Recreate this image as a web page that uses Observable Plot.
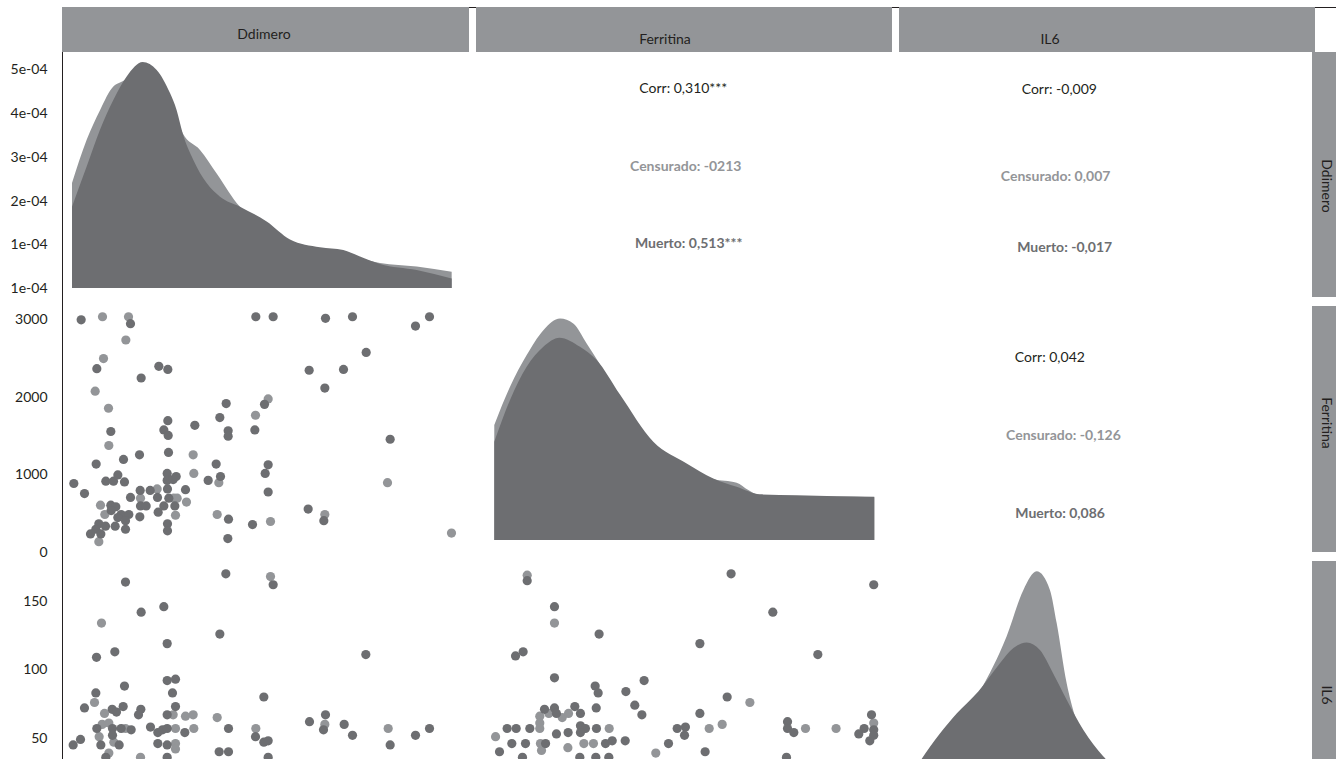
<!DOCTYPE html>
<html>
<head>
<meta charset="utf-8">
<script src="https://cdn.jsdelivr.net/npm/d3@7"></script>
<script src="https://cdn.jsdelivr.net/npm/@observablehq/plot@0.6"></script>
<style>
  html, body { margin: 0; padding: 0; background: #fff; overflow: hidden; }
  #chart { position: relative; width: 1336px; height: 759px; overflow: hidden; font-family: Lato, "Open Sans", sans-serif; color: #231f20; }
  .strip { position: absolute; background: #939598; }
  .lbl { position: absolute; font-size: 14px; line-height: 1; white-space: nowrap; transform: translate(-50%, -50%); color: #231f20; }
  .vlbl { writing-mode: vertical-rl; }
  .rule { position: absolute; background: #231f20; }
</style>
</head>
<body>
<div id="chart"></div>
<script>
// ---------------- DATA ----------------
const variables = ["Ddimero", "Ferritina", "IL6"];
const groups = ["Censurado", "Muerto"];

// Diagonal densities (x grid, density)
const ddimeroGridCensurado = [1080, 1300, 1500, 1700, 1800, 2140, 2350, 2550, 2740, 3000, 3250, 3600, 4000, 4350, 4800, 5150, 5400, 5700, 6250, 6775];
const ddimeroDensCensurado = [2.40e-4, 3.39e-4, 4.07e-4, 4.61e-4, 4.70e-4, 4.85e-4, 4.75e-4, 4.30e-4, 3.54e-4, 3.16e-4, 2.62e-4, 1.86e-4, 1.49e-4, 1.09e-4, 0.91e-4, 0.85e-4, 0.70e-4, 0.57e-4, 0.49e-4, 0.37e-4];
const ddimeroGridMuerto = [1080, 1300, 1500, 1700, 1900, 2140, 2350, 2550, 2650, 2740, 2900, 3100, 3300, 3600, 4000, 4350, 4800, 5150, 5400, 5700, 6250, 6775];
const ddimeroDensMuerto = [1.86e-4, 2.78e-4, 3.62e-4, 4.30e-4, 4.84e-4, 5.17e-4, 4.99e-4, 4.46e-4, 4.07e-4, 3.54e-4, 2.93e-4, 2.40e-4, 2.09e-4, 1.86e-4, 1.52e-4, 1.11e-4, 0.93e-4, 0.87e-4, 0.72e-4, 0.55e-4, 0.41e-4, 0.22e-4];

const ferritinaGridCensurado = [144, 264, 391, 518, 645, 746, 848, 937, 1102, 1356, 1610, 1813, 1991, 2080, 2169, 2448, 2753, 3040];
const ferritinaDensCensurado = [4.43e-4, 5.90e-4, 7.12e-4, 8.08e-4, 8.53e-4, 8.34e-4, 7.57e-4, 6.86e-4, 5.40e-4, 3.70e-4, 2.90e-4, 2.35e-4, 2.21e-4, 1.93e-4, 1.72e-4, 1.70e-4, 1.68e-4, 1.65e-4];
const ferritinaGridMuerto = [144, 264, 391, 518, 640, 797, 924, 1102, 1356, 1610, 1813, 1991, 2169, 2448, 2753, 3040];
const ferritinaDensMuerto = [3.78e-4, 5.39e-4, 6.67e-4, 7.44e-4, 7.79e-4, 7.44e-4, 6.93e-4, 5.60e-4, 3.78e-4, 2.95e-4, 2.37e-4, 2.05e-4, 1.76e-4, 1.72e-4, 1.69e-4, 1.67e-4];

const il6GridCensurado = [5.0, 18.3, 35.5, 47.0, 54.2, 59.9, 65.6, 68.5, 72.8, 76.4, 87.1, 100.0, 130.1, 171.8];
const il6DensCensurado = [1.5e-3, 6.5e-3, 15.0e-3, 23.0e-3, 29.7e-3, 32.4e-3, 29.7e-3, 24.9e-3, 16.2e-3, 11.4e-3, 5.1e-3, 1.5e-3, 0.8e-3, 0.5e-3];
const il6GridMuerto = [5.0, 10.4, 18.3, 25.5, 34.8, 44.1, 49.9, 55.6, 61.3, 67.0, 72.8, 80.0, 88.5, 97.9, 108.6, 130.1, 151.6, 171.8];
const il6DensMuerto = [2.5e-3, 5.2e-3, 8.9e-3, 11.8e-3, 15.0e-3, 19.1e-3, 21.3e-3, 22.1e-3, 21.0e-3, 17.6e-3, 13.8e-3, 9.4e-3, 5.6e-3, 2.9e-3, 1.7e-3, 1.0e-3, 0.9e-3, 0.7e-3];

// Scatter: [x, y] pairs
const ddimeroFerritinaMuerto = [
  [1210,3000],[1950,2950],[3830,3040],[4090,3040],[4875,3020],[5280,3040],[6225,2920],[6435,3040],
  [1445,2370],[2110,2250],[2375,2400],[2510,2360],[5485,2580],[4630,2350],[5145,2360],[4865,2120],
  [3385,1920],[3960,1910],[3290,1740],[2510,1700],[2915,1640],[1655,1560],[2450,1580],[2515,1510],
  [3415,1570],[3415,1500],[3815,1580],[5845,1460],[2520,1290],[2085,1260],[1845,1200],[1435,1140],
  [3235,1140],[4015,1130],[3970,1020],[1100,890],[1260,760],[1580,920],[1695,920],[1760,1000],
  [1860,910],[2500,1020],[2500,930],[2590,940],[2635,980],[3115,930],[3300,980],[4015,780],
  [1950,710],[2095,800],[2245,800],[2355,710],[2505,820],[2775,810],[1655,610],[1730,590],
  [1660,540],[1810,490],[1760,450],[1925,490],[2100,600],[2185,600],[2090,460],[2525,700],
  [2450,600],[2615,600],[2365,520],[1475,370],[1575,340],[1720,340],[1875,410],[1875,300],
  [1430,300],[1350,240],[1505,240],[2505,370],[2505,280],[3420,430],[3780,360],[4615,560],
  [4850,410],[3410,180]
];
const ddimeroFerritinaCensurado = [
  [1530,3040],[1920,3040],[1880,2740],[1545,2500],[1420,2080],[1620,1860],[1625,1380],[2890,1260],
  [2900,1020],[3275,900],[4015,1980],[3825,1770],[5805,900],[1500,610],[1565,490],[2350,820],
  [2100,700],[2600,700],[2650,700],[2790,650],[2625,480],[3250,490],[4050,400],[4865,490],
  [1475,140],[6765,250]
];
const ddimeroIl6Muerto = [
  [3380,170],[1875,164],[4090,162],[2450,146],[2110,142],[3290,126],[2500,119],[1715,113],
  [1440,109],[5480,111],[2500,92],[2625,93],[1860,88],[2580,83],[1430,83],[3950,80],
  [1260,72],[1675,71],[1740,69],[1840,73],[2105,71],[2070,67],[2500,67],[2625,73],
  [4635,62],[4875,67],[5155,60],[5280,52],[4845,56],[6225,52],[6435,57],[5845,45],
  [1445,57],[1680,57],[1680,52],[1810,57],[1960,56],[2250,58],[2360,54],[2430,56],
  [2500,57],[2765,54],[3420,57],[3825,51],[3950,47],[4015,48],[1090,45],[1200,49],
  [1505,45],[1780,45],[2360,46],[2500,45],[3280,40],[3420,40],[1580,36],[2500,36],[4015,36]
];
const ddimeroIl6Censurado = [
  [4050,168],[1515,134],[1410,76],[1560,68],[1525,60],[1625,61],[1480,51],[1700,47],
  [1625,39],[1875,57],[2100,36],[2590,67],[2625,57],[2775,66],[2890,67],[2900,57],
  [2625,46],[2625,42],[3250,65],[3830,57],[4865,60],[5815,57]
];
const ferritinaIl6Muerto = [
  [1945,170],[3032,162],[391,165],[599,146],[2263,142],[939,126],[1707,119],[2606,111],
  [360,113],[302,110],[599,94],[1282,92],[909,88],[932,83],[1143,84],[1915,80],
  [1211,74],[1265,67],[754,73],[917,72],[523,71],[599,72],[614,68],[797,68],
  [1707,68],[3015,67],[2375,62],[2375,57],[2423,54],[2959,57],[2918,53],[3032,56],
  [3002,48],[3032,52],[238,57],[307,57],[411,57],[797,59],[835,57],[797,54],
  [919,57],[614,53],[703,54],[1534,57],[1597,58],[1590,52],[180,40],[274,46],
  [378,46],[531,46],[988,46],[1039,48],[1138,48],[1468,46],[1747,40],[355,36],
  [792,36],[914,36],[1013,36],[2367,36]
];
const ferritinaIl6Censurado = [
  [391,169],[599,134],[150,51],[487,66],[487,61],[487,57],[556,68],[658,65],
  [706,68],[492,46],[500,41],[701,43],[823,46],[896,46],[1016,57],[1778,57],
  [1877,60],[2088,76],[2512,57],[2745,57],[3032,61],[1371,39]
];

// Upper-triangle correlation labels (Ferritina~Ddimero, IL6~Ddimero, IL6~Ferritina)
const corrTotal = ["Corr: 0,310***", "Corr: -0,009", "Corr: 0,042"];
const corrCensurado = ["Censurado: -0213", "Censurado: 0,007", "Censurado: -0,126"];
const corrMuerto = ["Muerto: 0,513***", "Muerto: -0,017", "Muerto: 0,086"];

// Tick labels
const ddimeroTicks = [0, 0.0001, 0.0002, 0.0003, 0.0004, 0.0005];
const ddimeroTickLabels = ["1e-04", "1e-04", "2e-04", "3e-04", "4e-04", "5e-04"];
const ferritinaTicks = [0, 1000, 2000, 3000];
const il6Ticks = [50, 100, 150];

// ---------------- STYLE / LAYOUT ----------------
const colorCens = "#939598";
const colorMuerto = "#6d6e71";
const textDark = "#231f20";
const dotR = 4.6;

const cols = [
  {left: 0, width: 469, marginLeft: 62},
  {left: 476, width: 416, marginLeft: 0},
  {left: 899, width: 413, marginLeft: 0}
];
const rows = [
  {top: 52, height: 245},
  {top: 306, height: 246},
  {top: 561, height: 245}
];
const xDomains = [[930, 7035], [4.7, 3175], [0.7, 178.3]];

const topStrips = [
  {left: 62, width: 407, cx: 264, cy: 34},
  {left: 476, width: 416, cx: 665, cy: 39},
  {left: 899, width: 416, cx: 1050, cy: 39}
];
const rightStrips = [
  {top: 52, height: 245, cx: 1327, cy: 186},
  {top: 306, height: 246, cx: 1327, cy: 423},
  {top: 561, height: 246, cx: 1327, cy: 695}
];
// text panels: [row, col, positions (fraction of panel)]
const textPanels = [
  {row: 0, col: 1, pos: [[0.497, 0.148], [0.503, 0.464], [0.510, 0.781]]},
  {row: 0, col: 2, pos: [[0.387, 0.152], [0.378, 0.505], [0.400, 0.795]]},
  {row: 1, col: 2, pos: [[0.364, 0.206], [0.397, 0.524], [0.389, 0.843]]}
];

const chart = document.getElementById("chart");

function addDiv(cls, css, text) {
  const d = document.createElement("div");
  d.className = cls;
  Object.assign(d.style, css);
  if (text != null) d.textContent = text;
  chart.appendChild(d);
  return d;
}

// top frame line and strips
addDiv("rule", {left: "62px", top: "7px", width: "1274px", height: "1px"});
topStrips.forEach((s, i) => {
  addDiv("strip", {left: s.left + "px", top: "7px", width: s.width + "px", height: "45px"});
  addDiv("lbl", {left: s.cx + "px", top: s.cy + "px"}, variables[i]);
});
rightStrips.forEach((s, i) => {
  addDiv("strip", {left: "1312px", top: s.top + "px", width: "30px", height: s.height + "px"});
  addDiv("lbl vlbl", {left: s.cx + "px", top: s.cy + "px"}, variables[i]);
});

const baseStyle = {background: "transparent", overflow: "visible", fontFamily: "Lato, 'Open Sans', sans-serif", fontSize: "14px", color: textDark};

function place(r, c, opts) {
  const col = cols[c], row = rows[r];
  const svg = Plot.plot({
    width: col.width,
    height: row.height,
    marginTop: 0, marginBottom: 0, marginRight: 0,
    marginLeft: col.marginLeft,
    style: baseStyle,
    ...opts
  });
  svg.style.position = "absolute";
  svg.style.left = col.left + "px";
  svg.style.top = row.top + "px";
  chart.appendChild(svg);
}

function densityMarks(gridC, densC, gridM, densM) {
  const dc = gridC.map((x, i) => ({x, d: densC[i]}));
  const dm = gridM.map((x, i) => ({x, d: densM[i]}));
  return [
    Plot.areaY(dc, {x: "x", y: "d", fill: colorCens, curve: "monotone-x"}),
    Plot.areaY(dm, {x: "x", y: "d", fill: colorMuerto, curve: "monotone-x"})
  ];
}
function dotMarks(cens, muerto) {
  return [
    Plot.dot(cens, {x: d => d[0], y: d => d[1], r: dotR, fill: colorCens}),
    Plot.dot(muerto, {x: d => d[0], y: d => d[1], r: dotR, fill: colorMuerto})
  ];
}
const axisLeft = (ticks, fmt) => Plot.axisY({ticks, tickFormat: fmt, tickSize: 0, tickPadding: 15, anchor: "left", label: null, fill: textDark, fontSize: 14});

// Row 1, col 1: Ddimero density
place(0, 0, {
  x: {domain: xDomains[0], axis: null},
  y: {domain: [-0.206e-4, 5.40e-4], axis: null},
  marks: [
    ...densityMarks(ddimeroGridCensurado, ddimeroDensCensurado, ddimeroGridMuerto, ddimeroDensMuerto),
    axisLeft(ddimeroTicks, d => ddimeroTickLabels[ddimeroTicks.indexOf(d)])
  ]
});
// Row 2, col 1: Ddimero x Ferritina
place(1, 0, {
  x: {domain: xDomains[0], axis: null},
  y: {domain: [0, 3172], axis: null},
  marks: [...dotMarks(ddimeroFerritinaCensurado, ddimeroFerritinaMuerto), axisLeft(ferritinaTicks, d => String(d))]
});
// Row 3, col 1: Ddimero x IL6
place(2, 0, {
  x: {domain: xDomains[0], axis: null},
  y: {domain: [0, 179], axis: null},
  marks: [...dotMarks(ddimeroIl6Censurado, ddimeroIl6Muerto), axisLeft(il6Ticks, d => String(d))]
});
// Row 2, col 2: Ferritina density
place(1, 1, {
  x: {domain: xDomains[1], axis: null},
  y: {domain: [-0.46e-4, 9.01e-4], axis: null},
  marks: densityMarks(ferritinaGridCensurado, ferritinaDensCensurado, ferritinaGridMuerto, ferritinaDensMuerto)
});
// Row 3, col 2: Ferritina x IL6
place(2, 1, {
  x: {domain: xDomains[1], axis: null},
  y: {domain: [0, 179], axis: null},
  marks: dotMarks(ferritinaIl6Censurado, ferritinaIl6Muerto)
});
// Row 3, col 3: IL6 density
place(2, 2, {
  x: {domain: xDomains[2], axis: null},
  y: {domain: [-1.6e-3, 33.9e-3], axis: null},
  marks: densityMarks(il6GridCensurado, il6DensCensurado, il6GridMuerto, il6DensMuerto)
});
// Upper triangle text panels
textPanels.forEach((tp, k) => {
  const p = tp.pos;
  place(tp.row, tp.col, {
    x: {domain: [0, 1], axis: null},
    y: {domain: [0, 1], range: [0, rows[tp.row].height], axis: null},
    marks: [
      Plot.text([corrTotal[k]], {x: () => p[0][0], y: () => p[0][1], text: d => d, fill: textDark, fontSize: 14}),
      Plot.text([corrCensurado[k]], {x: () => p[1][0], y: () => p[1][1], text: d => d, fill: colorCens, fontSize: 14, fontWeight: "bold"}),
      Plot.text([corrMuerto[k]], {x: () => p[2][0], y: () => p[2][1], text: d => d, fill: colorMuerto, fontSize: 14, fontWeight: "bold"})
    ]
  });
});

// left axis line
addDiv("rule", {left: "62px", top: "52px", width: "1px", height: "707px"});
</script>
</body>
</html>
